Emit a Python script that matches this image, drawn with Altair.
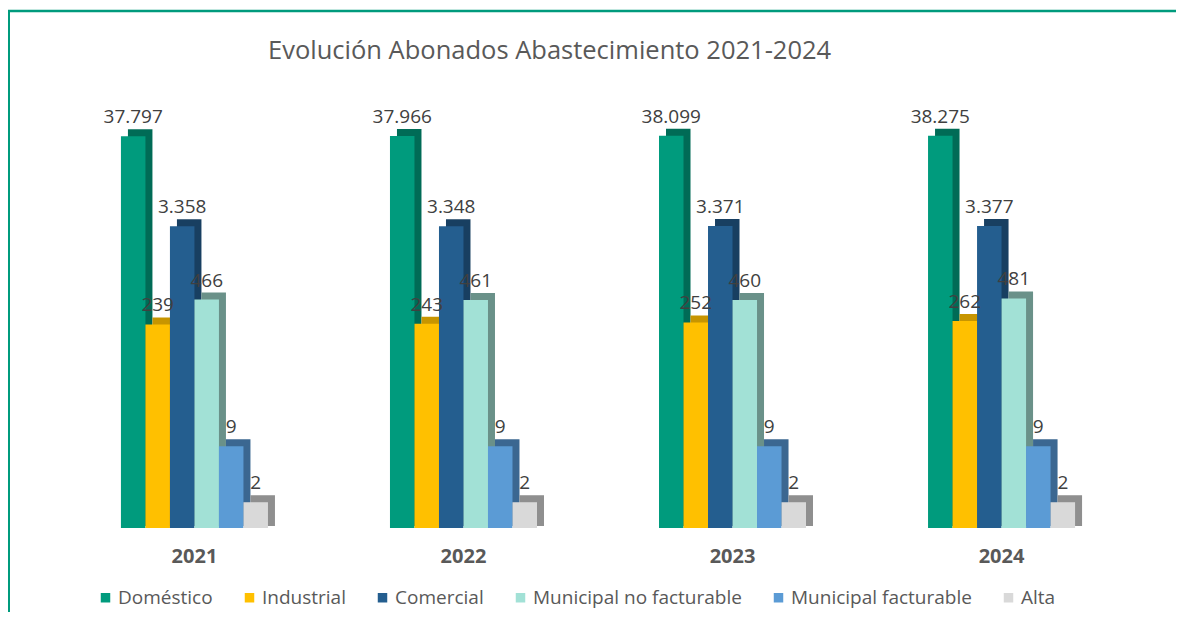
import altair as alt
import pandas as pd

years = ["2021", "2022", "2023", "2024"]
categories = ["Doméstico", "Industrial", "Comercial",
              "Municipal no facturable", "Municipal facturable", "Alta"]
domestico = [37797, 37966, 38099, 38275]
industrial = [239, 243, 252, 262]
comercial = [3358, 3348, 3371, 3377]
mun_no_fact = [466, 461, 460, 481]
mun_fact = [9, 9, 9, 9]
alta = [2, 2, 2, 2]

front_colors = ["#009B7D", "#FFC000", "#245E8F", "#A2E1D6", "#5B9BD5", "#D9D9D9"]
side_colors = ["#006B56", "#C79500", "#183F61", "#6A9189", "#3B6791", "#8F8F8F"]

series = [domestico, industrial, comercial, mun_no_fact, mun_fact, alta]
rows = []
for cat, vals in zip(categories, series):
    for y, v in zip(years, vals):
        rows.append({"year": y, "category": cat, "value": v,
                     "label": f"{v:,}".replace(",", ".")})
df = pd.DataFrame(rows)

FONT = "Open Sans"
TXT = "#595959"

WIDTH = 1136
P_IN = 0.4535
P_OUT = 0.338
STEP = WIDTH / (len(years) - P_IN + 2 * P_OUT)
BAND = STEP * (1 - P_IN)
DEPTH = 7

x_enc = alt.X("year:N", sort=years,
              scale=alt.Scale(paddingInner=P_IN, paddingOuter=P_OUT),
              axis=alt.Axis(title=None, labelAngle=0, domain=False, ticks=False,
                            labelFont=FONT, labelFontWeight="bold", labelFontSize=20,
                            labelColor=TXT, labelPadding=18))
xo_enc = alt.XOffset("category:N", sort=categories,
                     scale=alt.Scale(domain=categories, paddingInner=0, paddingOuter=0))
xo_side = alt.XOffset("category:N", sort=categories,
                      scale=alt.Scale(domain=categories, paddingInner=0, paddingOuter=0,
                                      range=[DEPTH, BAND + DEPTH]))
y_enc = alt.Y("value:Q", scale=alt.Scale(type="log", domain=[1, 100000]), axis=None)
y2_enc = alt.Y2(datum=1)

base = alt.Chart(df)

side = base.mark_bar(yOffset=-DEPTH, y2Offset=-2).encode(
    x=x_enc, xOffset=xo_side, y=y_enc, y2=y2_enc,
    color=alt.Color("category:N", scale=alt.Scale(domain=categories, range=side_colors),
                    legend=None),
)

front = base.mark_bar().encode(
    x=x_enc, xOffset=xo_enc, y=y_enc, y2=y2_enc,
    color=alt.Color("category:N", sort=categories,
                    scale=alt.Scale(domain=categories, range=front_colors),
                    legend=alt.Legend(orient="none", legendX=66, legendY=488,
                                      direction="horizontal", title=None,
                                      symbolType="square", symbolSize=90,
                                      symbolStrokeWidth=0, labelFont=FONT,
                                      labelFontSize=19, labelColor=TXT, labelLimit=500,
                                      columnPadding=27, labelOffset=3, padding=0)),
)

labels = base.mark_text(font=FONT, fontSize=19, color="#404040",
                        baseline="alphabetic", dy=-13).encode(
    x=x_enc, xOffset=xo_enc, y=y_enc, text="label:N",
)

frame_top = alt.Chart(pd.DataFrame({"k": [0]})).mark_rule(
    color="#009B7D", strokeWidth=2.5).encode(
    x=alt.value(-22), x2=alt.value(1160), y=alt.value(-89))
frame_left = alt.Chart(pd.DataFrame({"k": [0]})).mark_rule(
    color="#009B7D", strokeWidth=2).encode(
    x=alt.value(-21), y=alt.value(-90), y2=alt.value(520))

front_group = alt.layer(front, labels)

chart = alt.layer(side, front_group, frame_top, frame_left).resolve_scale(
    color="independent", xOffset="independent"
).properties(
    width=WIDTH, height=428,
    autosize=alt.AutoSizeParams(type="none"),
    padding={"left": 22, "top": 92, "right": 10, "bottom": 84},
    view=alt.ViewBackground(stroke="transparent"),
    title=alt.Title("Evolución Abonados Abastecimiento 2021-2024", anchor="start",
                    frame="group", dx=238, offset=-75, baseline="alphabetic",
                    font=FONT, fontSize=25.5, fontWeight="normal", color=TXT),
).configure_view(stroke="transparent").configure(background="white")

chart.save("out.html", embed_options={"renderer": "svg", "actions": False})
